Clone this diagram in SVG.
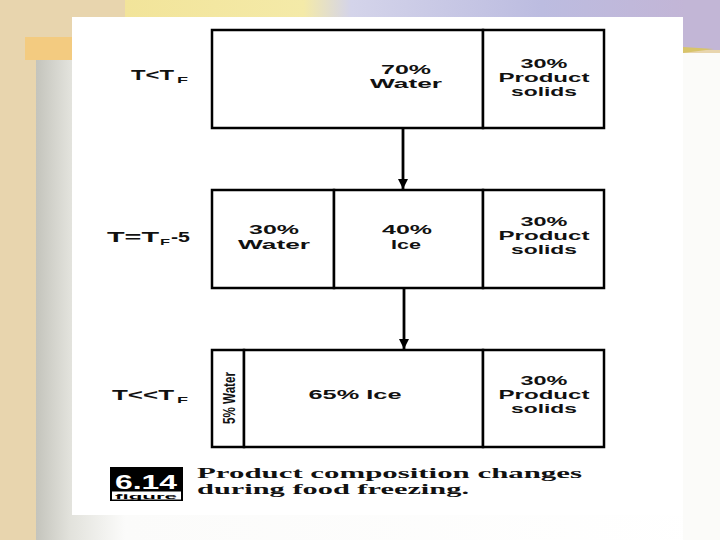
<svg xmlns="http://www.w3.org/2000/svg" width="720" height="540" viewBox="0 0 720 540">
  <defs>
    <linearGradient id="banner" x1="0" y1="0" x2="1" y2="0">
      <stop offset="0" stop-color="#f2e49a"/>
      <stop offset="0.3" stop-color="#f4eaa8"/>
      <stop offset="0.38" stop-color="#d4d4ea"/>
      <stop offset="0.7" stop-color="#bcbce0"/>
      <stop offset="1" stop-color="#c4b4d4"/>
    </linearGradient>
    <linearGradient id="grayPanel" x1="36" y1="0" x2="720" y2="0" gradientUnits="userSpaceOnUse">
      <stop offset="0" stop-color="#c4c4bc"/>
      <stop offset="0.05" stop-color="#e2e2dc"/>
      <stop offset="0.13" stop-color="#fbfbfa"/>
      <stop offset="1" stop-color="#ffffff"/>
    </linearGradient>
    <marker id="arrow" viewBox="0 0 10 10" refX="10" refY="5" markerWidth="3.6" markerHeight="3.6" orient="auto" markerUnits="strokeWidth">
      <path d="M0,0 L10,5 L0,10 z" fill="#000"/>
    </marker>
    <style>
      .box { fill: #fff; stroke: #000; stroke-width: 2.5; }
      .t { font-family: "Liberation Sans", "DejaVu Sans", sans-serif; font-weight: bold; font-size: 13.5px; fill: #111; }
      .vt { font-family: "Liberation Sans Narrow", "Liberation Sans", "DejaVu Sans", sans-serif; font-weight: bold; font-size: 17px; fill: #111; }
      .lbl { font-family: "Liberation Sans", "DejaVu Sans", sans-serif; font-weight: bold; font-size: 14px; fill: #111; }
      .sub { font-family: "Liberation Sans", "DejaVu Sans", sans-serif; font-weight: bold; font-size: 9px; fill: #111; }
      .cap { font-family: "Liberation Serif", "DejaVu Serif", serif; font-weight: bold; font-size: 15px; fill: #111; }
      .conn { stroke: #000; stroke-width: 2.8; fill: none; }
    </style>
  </defs>

  <!-- background -->
  <rect x="0" y="0" width="720" height="540" fill="#e8d5ae"/>
  <rect x="125" y="0" width="595" height="18" fill="url(#banner)"/>
  <rect x="683" y="0" width="37" height="50" fill="#c2b6d6"/>
  <path d="M683,47 L714,49 L683,53 z" fill="#d8c46a"/>
  <rect x="25" y="37" width="47" height="23" fill="#f3cb80"/>
  <rect x="36" y="60" width="684" height="480" fill="url(#grayPanel)"/>
  <rect x="683" y="53" width="37" height="487" fill="#fbfbf9"/>
  <rect x="72" y="17" width="611" height="498" fill="#ffffff"/>

  <!-- row 1 -->
  <g id="row1-label">
    <text class="lbl" x="131" y="80" textLength="43" lengthAdjust="spacingAndGlyphs">T&lt;T</text>
    <text class="sub" x="177" y="83" textLength="11" lengthAdjust="spacingAndGlyphs">F</text>
  </g>
  <g id="row1-water">
    <rect class="box" x="212" y="30" width="271" height="98"/>
    <text class="t" x="406" y="74" text-anchor="middle" textLength="50" lengthAdjust="spacingAndGlyphs">70%</text>
    <text class="t" x="406" y="88" text-anchor="middle" textLength="72" lengthAdjust="spacingAndGlyphs">Water</text>
  </g>
  <g id="row1-solids">
    <rect class="box" x="483" y="30" width="121" height="98"/>
    <text class="t" x="544" y="68" text-anchor="middle" textLength="47" lengthAdjust="spacingAndGlyphs">30%</text>
    <text class="t" x="544" y="82" text-anchor="middle" textLength="91" lengthAdjust="spacingAndGlyphs">Product</text>
    <text class="t" x="544" y="96" text-anchor="middle" textLength="66" lengthAdjust="spacingAndGlyphs">solids</text>
  </g>

  <!-- row 2 -->
  <g id="row2-label">
    <text class="lbl" x="107" y="242" textLength="52" lengthAdjust="spacingAndGlyphs">T=T</text>
    <text class="sub" x="160" y="245" textLength="10" lengthAdjust="spacingAndGlyphs">F</text>
    <text class="lbl" x="171" y="242" textLength="19" lengthAdjust="spacingAndGlyphs">-5</text>
  </g>
  <g id="row2-water">
    <rect class="box" x="212" y="190" width="122" height="98"/>
    <text class="t" x="274" y="234" text-anchor="middle" textLength="50" lengthAdjust="spacingAndGlyphs">30%</text>
    <text class="t" x="274" y="249" text-anchor="middle" textLength="72" lengthAdjust="spacingAndGlyphs">Water</text>
  </g>
  <g id="row2-ice">
    <rect class="box" x="334" y="190" width="149" height="98"/>
    <text class="t" x="407" y="234" text-anchor="middle" textLength="50" lengthAdjust="spacingAndGlyphs">40%</text>
    <text class="t" x="406" y="249" text-anchor="middle" textLength="30" lengthAdjust="spacingAndGlyphs">Ice</text>
  </g>
  <g id="row2-solids">
    <rect class="box" x="483" y="190" width="121" height="98"/>
    <text class="t" x="544" y="226" text-anchor="middle" textLength="47" lengthAdjust="spacingAndGlyphs">30%</text>
    <text class="t" x="544" y="240" text-anchor="middle" textLength="91" lengthAdjust="spacingAndGlyphs">Product</text>
    <text class="t" x="544" y="254" text-anchor="middle" textLength="66" lengthAdjust="spacingAndGlyphs">solids</text>
  </g>

  <!-- row 3 -->
  <g id="row3-label">
    <text class="lbl" x="112" y="400" textLength="62" lengthAdjust="spacingAndGlyphs">T&lt;&lt;T</text>
    <text class="sub" x="177" y="403" textLength="11" lengthAdjust="spacingAndGlyphs">F</text>
  </g>
  <g id="row3-water">
    <rect class="box" x="212" y="350" width="32" height="97"/>
    <text class="vt" transform="translate(234.5,398) rotate(-90)" x="0" y="0" text-anchor="middle" textLength="52" lengthAdjust="spacingAndGlyphs">5% Water</text>
  </g>
  <g id="row3-ice">
    <rect class="box" x="244" y="350" width="239" height="97"/>
    <text class="t" x="355" y="399" text-anchor="middle" textLength="93" lengthAdjust="spacingAndGlyphs">65% Ice</text>
  </g>
  <g id="row3-solids">
    <rect class="box" x="483" y="350" width="121" height="97"/>
    <text class="t" x="544" y="385" text-anchor="middle" textLength="47" lengthAdjust="spacingAndGlyphs">30%</text>
    <text class="t" x="544" y="399" text-anchor="middle" textLength="91" lengthAdjust="spacingAndGlyphs">Product</text>
    <text class="t" x="544" y="413" text-anchor="middle" textLength="66" lengthAdjust="spacingAndGlyphs">solids</text>
  </g>

  <!-- connectors -->
  <g id="connectors">
    <line class="conn" x1="403" y1="129" x2="403" y2="189" marker-end="url(#arrow)"/>
    <line class="conn" x1="404" y1="289" x2="404" y2="349" marker-end="url(#arrow)"/>
  </g>

  <!-- caption -->
  <g id="caption">
    <rect x="110" y="467" width="73" height="34" fill="#000"/>
    <text x="146" y="489" text-anchor="middle" font-family="Liberation Sans, DejaVu Sans, sans-serif" font-weight="bold" font-size="20" fill="#fff" textLength="62" lengthAdjust="spacingAndGlyphs">6.14</text>
    <rect x="112" y="491.5" width="69" height="8" fill="#fff"/>
    <text x="146" y="498.5" text-anchor="middle" font-family="Liberation Sans, DejaVu Sans, sans-serif" font-weight="bold" font-size="8" fill="#000" textLength="62" lengthAdjust="spacingAndGlyphs">figure</text>
    <text class="cap" x="197" y="478" textLength="385" lengthAdjust="spacingAndGlyphs">Product composition changes</text>
    <text class="cap" x="197" y="494" textLength="272" lengthAdjust="spacingAndGlyphs">during food freezing.</text>
  </g>
</svg>
